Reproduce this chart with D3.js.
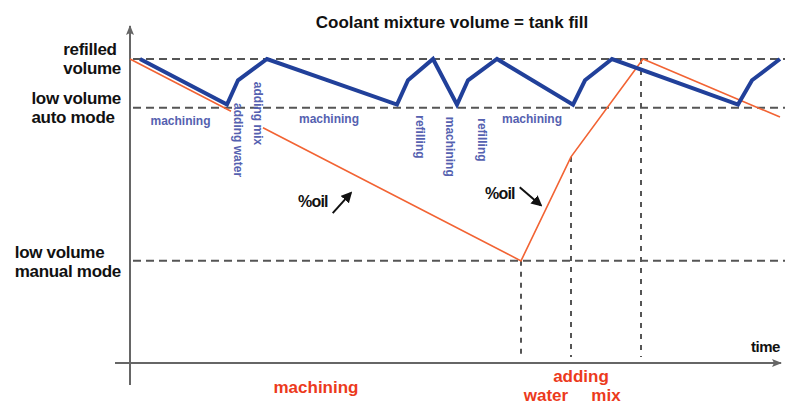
<!DOCTYPE html>
<html>
<head>
<meta charset="utf-8">
<script src="https://cdn.jsdelivr.net/npm/d3@7"></script>
<style>
body{margin:0;background:#fff;}
text{font-family:"Liberation Sans",Arial,sans-serif;}
</style>
</head>
<body>
<div id="chart"></div>
<script>
// levels of the tank (volume, 0..100)
var levelValues = [100, 84, 33.6];
var levelLabels = [["refilled","volume"],["low volume","auto mode"],["low volume","manual mode"]];

// coolant volume, auto mode (blue)
var blueTime   = [10, 97, 108, 137, 267, 278, 303, 327, 338, 367, 443, 455, 482, 608, 622, 650];
var blueVolume = [100, 85, 93, 100, 85, 93, 100, 85, 93, 100, 85, 93, 100, 85, 93, 100];

// coolant volume, manual mode (orange), null = gap behind labels
var oilTime   = [0, 101, null, 133, 391, 441, 513, 650];
var oilVolume = [100, 82.8, null, 77.4, 33.6, 67.8, 100, 80.9];

// blue phase labels: text, start time, end time, rotated, start volume (rotated only)
var phaseText  = ["machining","adding water","adding mix","machining","refilling","machining","refilling","machining"];
var phaseStart = [10, 97, 108, 137, 267, 303, 327, 367];
var phaseEnd   = [97, 108, 137, 267, 303, 327, 367, 443];
var phaseRot   = [false, true, true, false, true, true, true, false];
var phaseTop   = [0, 85.5, 92.5, 0, 81.5, 81, 80.5, 0];

// vertical markers (time, volume where it starts)
var markTime   = [391, 441, 511];
var markVolume = [33.6, 67.8, 100];

// red bottom labels: text, time span
var bottomText  = ["machining", "adding", "water", "mix"];
var bottomStart = [0, 391, 391, 441];
var bottomEnd   = [372, 511, 441, 511];
var bottomRow   = [0, 0, 1, 1];

// %oil notes: time, volume, arrow direction
var oilNoteTime = [168, 355];
var oilNoteVol  = [51.3, 53.9];
var oilNoteDir  = ["up", "down"];

var W = 785, H = 405;
var svg = d3.select("#chart").append("svg").attr("width",W).attr("height",H);

var x = d3.scaleLinear().domain([0,650]).range([130,780]);
var y = d3.scaleLinear().domain([0,100]).range([363,59]);

var defs = svg.append("defs");
defs.append("marker").attr("id","axArrow").attr("viewBox","0 0 10 10")
	.attr("refX",9).attr("refY",5).attr("markerWidth",5).attr("markerHeight",5)
	.attr("orient","auto").attr("markerUnits","strokeWidth")
	.append("path").attr("d","M0,1 L10,5 L0,9 L2,5 Z").attr("fill","#666");
defs.append("marker").attr("id","oilArrow").attr("viewBox","0 0 10 10")
	.attr("refX",8).attr("refY",5).attr("markerWidth",5.5).attr("markerHeight",5.5)
	.attr("orient","auto").attr("markerUnits","strokeWidth")
	.append("path").attr("d","M0,0 L10,5 L0,10 Z").attr("fill","#111");

// title
svg.append("text").attr("x",452).attr("y",28).attr("text-anchor","middle")
	.attr("font-size",17).attr("font-weight","bold").attr("fill","#111")
	.text("Coolant mixture volume = tank fill");

// axes
svg.append("line").attr("x1",x(0)).attr("x2",x(0)).attr("y1",385).attr("y2",y(100)-33)
	.attr("stroke","#666").attr("stroke-width",2).attr("marker-end","url(#axArrow)");
svg.append("line").attr("x1",x(0)-15).attr("x2",x(650)+1).attr("y1",y(0)).attr("y2",y(0))
	.attr("stroke","#666").attr("stroke-width",2).attr("marker-end","url(#axArrow)");
svg.append("text").attr("x",751).attr("y",352).attr("font-size",15).attr("font-weight","bold")
	.attr("fill","#111").attr("letter-spacing",-0.5).text("time");

// horizontal level lines
svg.selectAll(".lvl").data(levelValues).enter().append("line")
	.attr("x1",x(3)).attr("x2",W).attr("y1",function(d){return y(d);}).attr("y2",function(d){return y(d);})
	.attr("stroke","#555").attr("stroke-width",2).attr("stroke-dasharray","8,5");

// vertical markers
svg.selectAll(".mark").data(markTime).enter().append("line")
	.attr("x1",function(d){return x(d);}).attr("x2",function(d){return x(d);})
	.attr("y1",function(d,i){return y(markVolume[i]);}).attr("y2",y(2))
	.attr("stroke","#555").attr("stroke-width",2).attr("stroke-dasharray","5,6");

// level labels, block right edge at 121, lines left aligned
levelLabels.forEach(function(lines,i){
	var g = svg.append("g");
	lines.forEach(function(s,j){
		g.append("text").attr("y",y(levelValues[i]) + (j==0 ? -4 : 15) + (i==2 ? 1 : 0))
			.attr("font-size",17).attr("font-weight","bold").attr("fill","#111")
			.attr("letter-spacing",-0.3).text(s);
	});
	var wMax = d3.max(g.selectAll("text").nodes(),function(n){return n.getComputedTextLength();});
	g.attr("transform","translate(" + (121 - wMax) + ",0)");
});

// orange line
var oilPts = oilTime.map(function(t,i){return [t, oilVolume[i]];});
svg.append("path").datum(oilPts)
	.attr("d",d3.line().defined(function(d){return d[0]!=null;})
		.x(function(d){return x(d[0]);}).y(function(d){return y(d[1]);}))
	.attr("fill","none").attr("stroke","#f26333").attr("stroke-width",1.6);

// blue line
var bluePts = blueTime.map(function(t,i){return [t, blueVolume[i]];});
svg.append("path").datum(bluePts)
	.attr("d",d3.line().x(function(d){return x(d[0]);}).y(function(d){return y(d[1]);}))
	.attr("fill","none").attr("stroke","#21409a").attr("stroke-width",4).attr("stroke-linejoin","miter");

// blue phase labels
phaseText.forEach(function(s,i){
	var cx = x((phaseStart[i] + phaseEnd[i]) / 2);
	if(phaseRot[i]){
		var top = y(phaseTop[i]);
		svg.append("text").attr("transform","translate(" + (cx+5) + "," + top + ") rotate(90)")
			.attr("dominant-baseline","central").attr("font-size",12).attr("font-weight","bold")
			.attr("fill","#5561b0").text(s);
	}else{
		svg.append("text").attr("x",cx - 3).attr("y",y(levelValues[1]) + (i==0 ? 17 : 15))
			.attr("text-anchor","middle").attr("font-size",12).attr("font-weight","bold")
			.attr("fill","#5561b0").text(s);
	}
});

// %oil notes
oilNoteTime.forEach(function(t,i){
	var tx = x(t), ty = y(oilNoteVol[i]);
	var lbl = svg.append("text").attr("x",tx).attr("y",ty).attr("font-size",16).attr("font-weight","bold")
		.attr("fill","#111").attr("letter-spacing",-0.8).text("%oil");
	var ax = tx + lbl.node().getComputedTextLength() + 5;
	if(oilNoteDir[i]=="up"){
		svg.append("line").attr("x1",ax).attr("y1",ty+6).attr("x2",ax+18).attr("y2",ty-14)
			.attr("stroke","#111").attr("stroke-width",2).attr("marker-end","url(#oilArrow)");
	}else{
		svg.append("line").attr("x1",ax).attr("y1",ty-12).attr("x2",ax+21).attr("y2",ty+6)
			.attr("stroke","#111").attr("stroke-width",2).attr("marker-end","url(#oilArrow)");
	}
});

// red bottom labels
bottomText.forEach(function(s,i){
	svg.append("text").attr("x",x((bottomStart[i] + bottomEnd[i]) / 2))
		.attr("y",bottomRow[i]==0 ? (i==0 ? 393 : 382) : 401)
		.attr("text-anchor","middle").attr("font-size",17).attr("font-weight","bold")
		.attr("fill","#ec3a1c").text(s);
});
</script>
</body>
</html>
